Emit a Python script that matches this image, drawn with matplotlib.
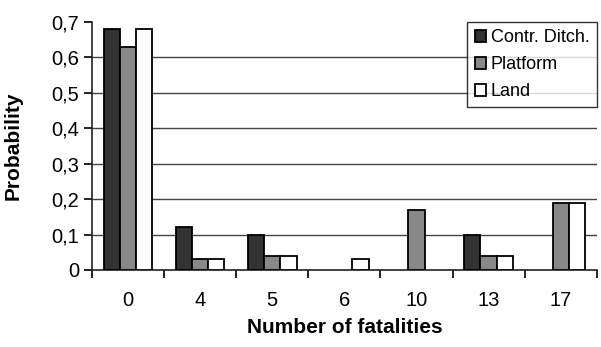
import matplotlib
matplotlib.use("Agg")
import matplotlib.pyplot as plt
import numpy as np

plt.rcParams["font.family"] = ["Liberation Sans", "DejaVu Sans"]

categories = ["0", "4", "5", "6", "10", "13", "17"]
contr_ditch = [0.68, 0.12, 0.10, 0.0, 0.0, 0.10, 0.0]
platform = [0.63, 0.03, 0.04, 0.0, 0.17, 0.04, 0.19]
land = [0.68, 0.03, 0.04, 0.03, 0.0, 0.04, 0.19]
yticks = [0, 0.1, 0.2, 0.3, 0.4, 0.5, 0.6, 0.7]
ytick_labels = ["0", "0,1", "0,2", "0,3", "0,4", "0,5", "0,6", "0,7"]

fig = plt.figure(figsize=(6.01, 3.47), dpi=100)
ax = fig.add_axes([0.153, 0.222, 0.840, 0.715])

x = np.arange(len(categories))
w = 0.225
series = [("Contr. Ditch.", contr_ditch, "#333333"),
          ("Platform", platform, "#888888"),
          ("Land", land, "white")]
for i, (name, vals, col) in enumerate(series):
    # zero values are not drawn at all in the original
    xs = [xi + (i - 1) * w for xi, v in zip(x, vals) if v > 0]
    vs = [v for v in vals if v > 0]
    ax.bar(xs, vs, width=w, color=col, edgecolor="black", linewidth=1.3,
           label=name, zorder=3)

ax.set_xlim(-0.5, len(categories) - 0.5)
ax.set_ylim(0, 0.7)
ax.set_yticks(yticks)
ax.set_yticklabels(ytick_labels, fontsize=14.5)
for yv in yticks[1:-1]:
    ax.axhline(yv, color="#444444", linewidth=1.0, zorder=1)

ax.set_xticks(x)
ax.set_xticklabels(categories, fontsize=14.5)
ax.set_xticks(np.arange(len(categories) + 1) - 0.5, minor=True)
ax.tick_params(axis="x", which="major", length=0, pad=15)
ax.tick_params(axis="x", which="minor", length=6, width=1.2, direction="out")
ax.tick_params(axis="y", length=6, width=1.2, direction="out", pad=3)

for s in ["top", "right"]:
    ax.spines[s].set_visible(False)
for s in ["left", "bottom"]:
    ax.spines[s].set_linewidth(1.2)
    ax.spines[s].set_color("#222222")

ax.set_xlabel("Number of fatalities", fontsize=15, fontweight="bold", labelpad=6)
ax.set_ylabel("Probability", fontsize=15, fontweight="bold")
ax.yaxis.set_label_coords(-0.137, 0.5)

leg = ax.legend(loc="upper right", bbox_to_anchor=(1.0, 1.0), fontsize=13,
                frameon=True, fancybox=False, edgecolor="black",
                handlelength=0.65, handleheight=0.65, handletextpad=0.25,
                borderpad=0.4, labelspacing=0.55, borderaxespad=0.0)
leg.get_frame().set_linewidth(1.0)
leg.set_zorder(5)

fig.savefig("out.png", dpi=100)
